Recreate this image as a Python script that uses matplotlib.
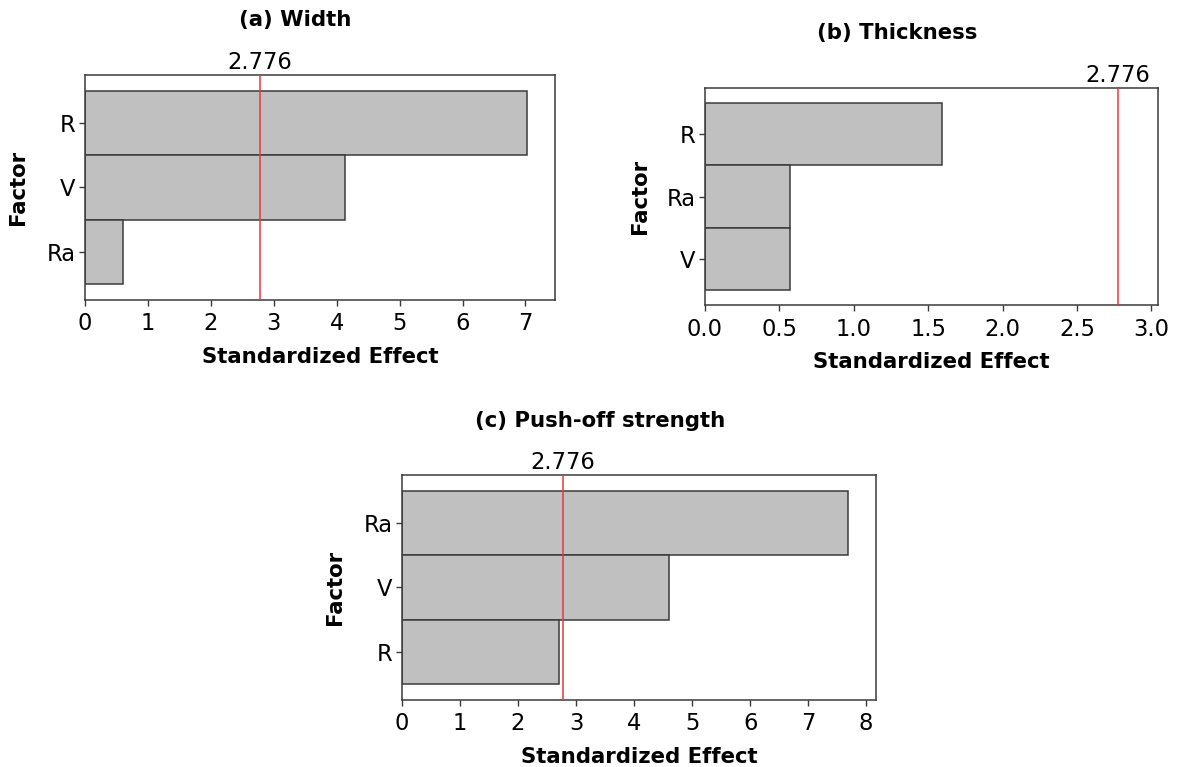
import matplotlib
matplotlib.use("Agg")
import matplotlib.pyplot as plt
import matplotlib.transforms as mtransforms

plt.rcParams['font.family'] = ['DejaVu Sans']

# Data
width_factors = ["R", "V", "Ra"]
width_effects = [7.03, 4.13, 0.61]
thick_factors = ["R", "Ra", "V"]
thick_effects = [1.59, 0.57, 0.57]
push_factors = ["Ra", "V", "R"]
push_effects = [7.69, 4.61, 2.70]
critical = 2.776
titles = ["(a) Width", "(b) Thickness", "(c) Push-off strength"]
xticks_a = [0, 1, 2, 3, 4, 5, 6, 7]
xticks_b = [0.0, 0.5, 1.0, 1.5, 2.0, 2.5, 3.0]
xticks_c = [0, 1, 2, 3, 4, 5, 6, 7, 8]

W, H = 1178, 767
fig = plt.figure(figsize=(W / 100, H / 100), dpi=100)

TICK_FS = 16.3
LABEL_FS = 15.3

def px_axes(left, top, right, bottom):
    return fig.add_axes([left / W, 1 - bottom / H, (right - left) / W, (bottom - top) / H])

def panel(ax, factors, effects, xmax, xticks, fmt, ylabel_x):
    n = len(factors)
    pos = list(range(n - 1, -1, -1))
    ax.barh(pos, effects, height=1.0, color="#C0C0C0", edgecolor="#3a3a3a", linewidth=1.1, zorder=2)
    ax.axvline(critical, color="#E8383D", linewidth=1.1, zorder=3)
    trans = mtransforms.blended_transform_factory(ax.transData, ax.transAxes)
    ax.text(critical, 1.003, "2.776", transform=trans, ha="center", va="bottom", fontsize=TICK_FS)
    ax.set_xlim(0, xmax)
    ax.set_ylim(-0.74, n - 1 + 0.74)
    ax.set_yticks(pos)
    ax.set_yticklabels(factors)
    ax.set_xticks(xticks)
    ax.set_xticklabels([fmt.format(t) for t in xticks])
    ax.tick_params(axis="both", labelsize=TICK_FS, length=4, width=1, color="#3a3a3a", pad=3)
    ax.tick_params(axis="x", pad=5)
    for s in ax.spines.values():
        s.set_color("#3a3a3a")
        s.set_linewidth(1.1)
    ax.set_xlabel("Standardized Effect", fontsize=LABEL_FS, fontweight="bold", labelpad=8)
    ax.set_ylabel("Factor", fontsize=LABEL_FS, fontweight="bold")
    ax.yaxis.set_label_coords(ylabel_x, 0.5)

ax_a = px_axes(85, 75, 555, 300)
panel(ax_a, width_factors, width_effects, 7.47, xticks_a, "{:d}", -0.121)
ax_b = px_axes(705, 88, 1158, 305)
panel(ax_b, thick_factors, thick_effects, 3.045, xticks_b, "{:.1f}", -0.121)
ax_c = px_axes(402, 475, 876, 700)
panel(ax_c, push_factors, push_effects, 8.17, xticks_c, "{:d}", -0.120)

fig.text(295 / W, 1 - 20 / H, titles[0], ha="center", va="center", fontsize=LABEL_FS, fontweight="bold")
fig.text(897 / W, 1 - 33 / H, titles[1], ha="center", va="center", fontsize=LABEL_FS, fontweight="bold")
fig.text(600 / W, 1 - 421 / H, titles[2], ha="center", va="center", fontsize=LABEL_FS, fontweight="bold")

fig.savefig("out.png", dpi=100, facecolor="white")
